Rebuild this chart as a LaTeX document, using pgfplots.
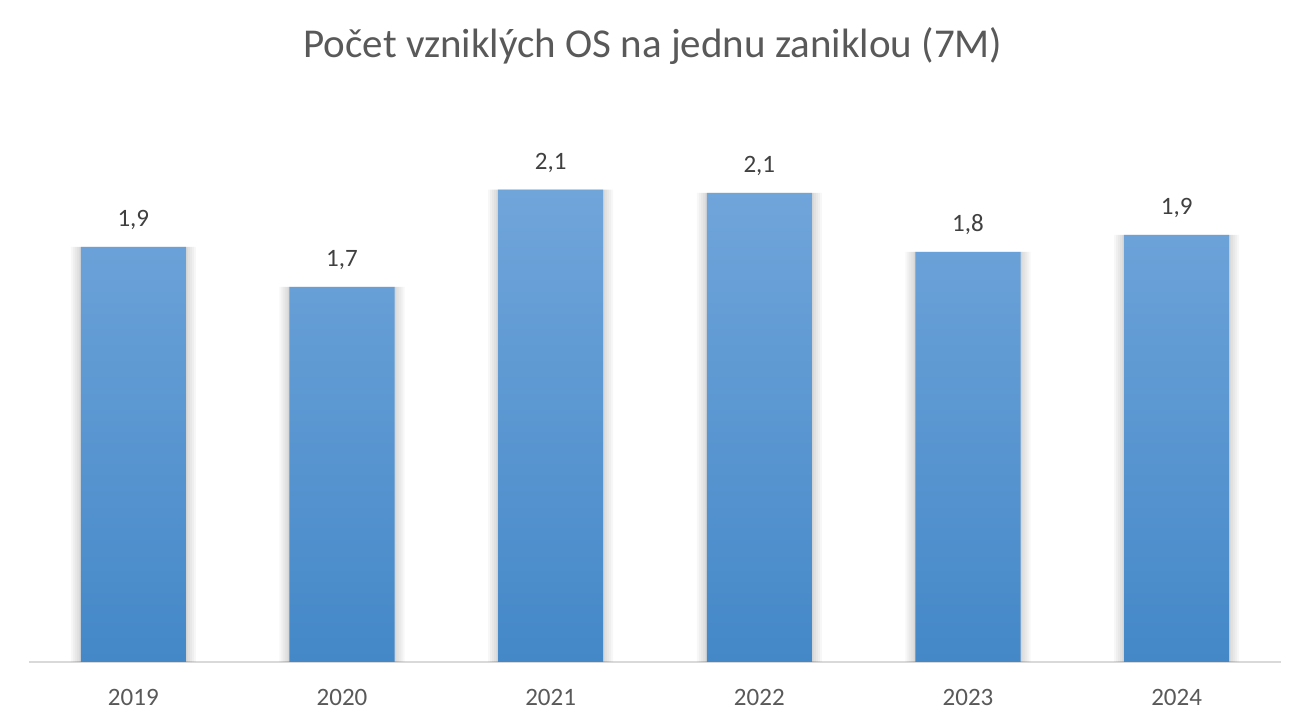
\documentclass[border=0pt]{standalone}
\usepackage{pgfplots}
\pgfplotsset{compat=1.18}
\usepackage{fontspec}
\setmainfont{Carlito}
\definecolor{titlegray}{HTML}{595959}
\definecolor{labelgray}{HTML}{404040}
\definecolor{bartop}{HTML}{70A5DA}
\definecolor{barmid}{HTML}{5A9CDA}
\definecolor{barbottom}{HTML}{4488C8}
\definecolor{baseline}{HTML}{D9D9D9}

\pgfplotstableread{
x year value
0 2019 1.861
1 2020 1.682
2 2021 2.117
3 2022 2.103
4 2023 1.839
5 2024 1.915
}\osdata

\begin{document}
\begin{tikzpicture}[x=1pt,y=1pt]
\path[use as bounding box] (0,0) rectangle (1309,727);
\node[anchor=base, text=titlegray, font=\fontsize{41}{46}\selectfont] at (653,669) {Počet vzniklých OS na jednu zaniklou (7M)};
\begin{axis}[
  at={(29pt,65pt)}, anchor=south west,
  scale only axis, width=1252pt, height=580pt,
  xmin=-0.5, xmax=5.5, ymin=0, ymax=2.6,
  axis x line=bottom, axis y line=none,
  x axis line style={-, draw=baseline, line width=2pt},
  ytick=\empty,
  xtick=data, xticklabels={2019,2020,2021,2022,2023,2024},
  xtick style={draw=none},
  xticklabel style={anchor=base, yshift=-41pt, text=titlegray, font=\fontsize{25}{29}\selectfont},
  /pgf/number format/assume math mode=true,
  clip=false,
  shadowbar/.style={ybar, bar shift=0pt, draw=none, fill=black, fill opacity=0.03, forget plot},
]
% soft shadow around the bars
\addplot[shadowbar, bar width=125pt] table[x=x, y=value] {\osdata};
\addplot[shadowbar, bar width=121pt] table[x=x, y=value] {\osdata};
\addplot[shadowbar, bar width=117pt] table[x=x, y=value] {\osdata};
\addplot[shadowbar, bar width=113pt] table[x=x, y=value] {\osdata};
\addplot[shadowbar, bar width=109pt] table[x=x, y=value] {\osdata};
\addplot[shadowbar, bar width=107pt] table[x=x, y=value] {\osdata};
% bars with labels
\addplot[ybar, bar shift=0pt, bar width=105pt, draw=none,
  top color=bartop, middle color=barmid, bottom color=barbottom,
  nodes near coords,
  nodes near coords style={anchor=base, yshift=20pt, text=labelgray, font=\fontsize{25}{29}\selectfont,
    /pgf/number format/.cd, fixed, fixed zerofill, precision=1, use comma, assume math mode=true},
] table[x=x, y=value] {\osdata};
\end{axis}
\end{tikzpicture}
\end{document}
